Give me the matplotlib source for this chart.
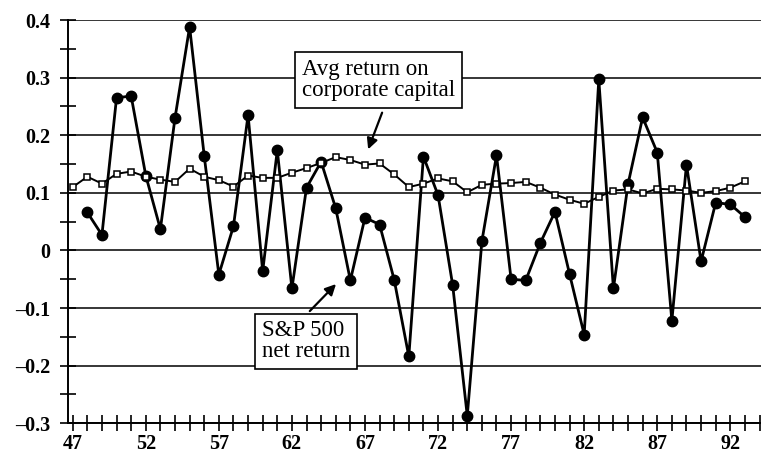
import matplotlib
matplotlib.use("Agg")
import matplotlib.pyplot as plt
from matplotlib.ticker import MultipleLocator, FixedLocator, FuncFormatter

# ---- data ----
years_capital = list(range(47, 94))
avg_return_capital = [0.110, 0.128, 0.116, 0.133, 0.137, 0.128, 0.123, 0.119, 0.142, 0.128,
                      0.122, 0.111, 0.130, 0.126, 0.126, 0.135, 0.143, 0.152, 0.162, 0.157,
                      0.149, 0.151, 0.132, 0.110, 0.116, 0.125, 0.120, 0.101, 0.114, 0.116,
                      0.117, 0.119, 0.109, 0.097, 0.088, 0.081, 0.093, 0.104, 0.106, 0.099,
                      0.107, 0.106, 0.104, 0.100, 0.103, 0.109, 0.120]

years_sp = list(range(48, 94))
sp500_net_return = [0.066, 0.027, 0.265, 0.268, 0.130, 0.037, 0.230, 0.388, 0.164, -0.042,
                    0.042, 0.235, -0.036, 0.174, -0.066, 0.109, 0.154, 0.073, -0.052, 0.057,
                    0.045, -0.051, -0.184, 0.163, 0.096, -0.060, -0.287, 0.016, 0.165, -0.050,
                    -0.052, 0.013, 0.067, -0.041, -0.146, 0.297, -0.066, 0.115, 0.231, 0.170,
                    -0.122, 0.149, -0.019, 0.083, 0.080, 0.058]

x_tick_labels = [47, 52, 57, 62, 67, 72, 77, 82, 87, 92]
y_ticks = [-0.3, -0.2, -0.1, 0, 0.1, 0.2, 0.3, 0.4]

label_capital = "Avg return on\ncorporate capital"
label_sp = "S&P 500\nnet return"

# ---- figure ----
fig = plt.figure(figsize=(7.61, 4.58), dpi=100)
ax = fig.add_axes([0.0894, 0.0758, 0.9106, 0.8805])

serif = ["Liberation Serif", "DejaVu Serif"]

for yv in y_ticks:
    ax.axhline(yv, color="black", lw=1.1, zorder=1)

ax.plot(years_sp, sp500_net_return, color="black", lw=2.0, marker="o",
        markersize=7.5, markerfacecolor="black", zorder=3)
ax.plot(years_capital, avg_return_capital, color="black", lw=1.4, marker="s",
        markersize=5, markerfacecolor="white", markeredgecolor="black",
        markeredgewidth=1.1, zorder=4)

ax.set_xlim(46.68, 94.1)
ax.set_ylim(-0.3, 0.4)

ax.spines["top"].set_visible(False)
ax.spines["right"].set_visible(False)
for s in ("left", "bottom"):
    ax.spines[s].set_linewidth(1.4)
    ax.spines[s].set_zorder(5)

ax.xaxis.set_major_locator(FixedLocator(x_tick_labels))
ax.xaxis.set_minor_locator(MultipleLocator(1))
ax.yaxis.set_major_locator(FixedLocator(y_ticks))
ax.yaxis.set_minor_locator(MultipleLocator(0.05))

def yfmt(v, pos):
    if abs(v) < 1e-9:
        return "0"
    s = f"{abs(v):.1f}"
    return ("\u2013" + s) if v < 0 else s

ax.yaxis.set_major_formatter(FuncFormatter(yfmt))

ax.tick_params(axis="both", which="both", direction="inout", color="black", width=1.2)
ax.tick_params(axis="both", which="major", length=12)
ax.tick_params(axis="both", which="minor", length=11)
ax.tick_params(axis="y", which="major", pad=7)
ax.tick_params(axis="x", which="major", pad=2)

for lab in ax.get_xticklabels() + ax.get_yticklabels():
    lab.set_fontfamily(serif)
    lab.set_fontweight("bold")
    lab.set_fontsize(14.5)

# annotations
box = dict(boxstyle="square,pad=0.3", facecolor="white", edgecolor="black", lw=1.2)
ax.text(67.95, 0.296, label_capital, ha="center", va="center", multialignment="left",
        fontsize=16.5, family=serif, bbox=box, zorder=6, linespacing=1.0)
ax.annotate("", xy=(67.15, 0.171), xytext=(68.24, 0.2437),
            arrowprops=dict(arrowstyle="-|>", color="black", lw=1.6, mutation_scale=16),
            zorder=6)

ax.text(62.99, -0.158, label_sp, ha="center", va="center", multialignment="left",
        fontsize=16.5, family=serif, bbox=box, zorder=6, linespacing=1.0)
ax.annotate("", xy=(65.15, -0.0549), xytext=(63.09, -0.1087),
            arrowprops=dict(arrowstyle="-|>", color="black", lw=1.6, mutation_scale=16),
            zorder=6)

fig.savefig("out.png", dpi=100)
